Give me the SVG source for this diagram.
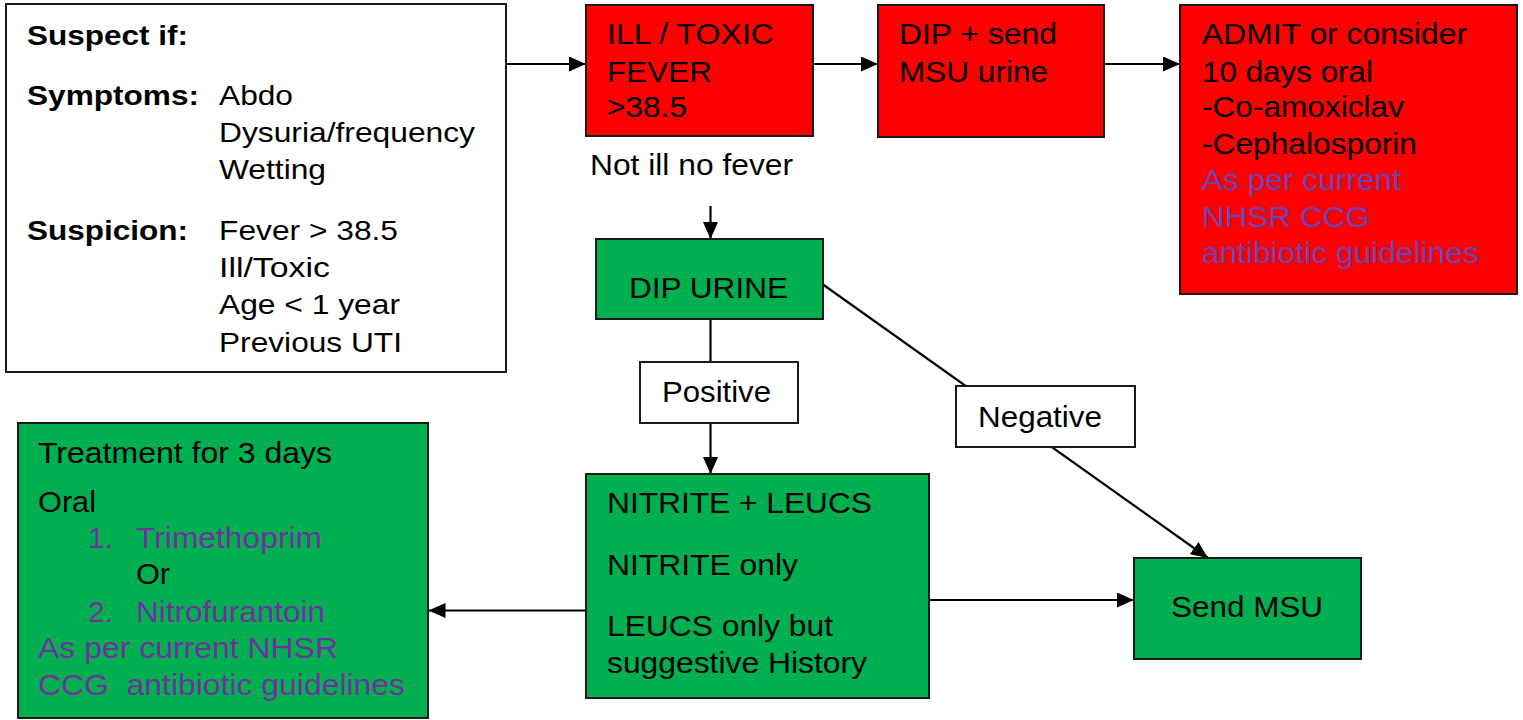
<svg xmlns="http://www.w3.org/2000/svg" width="1523" height="720" viewBox="0 0 1523 720">
<style>
text{font-family:"Liberation Sans",Arial,sans-serif;font-size:30px;fill:#000}
.s{font-size:28px}
.b{font-weight:bold}
.p{fill:#7030A0}
.pr{fill:#6F42B4}
.box{stroke:#1a1a1a;stroke-width:2}
.w{fill:#fff}
.r{fill:#FF0000}
.g{fill:#00B050}
.ln{stroke:#000;stroke-width:2.2;fill:none}
.ar{marker-end:url(#ah)}
</style>
<defs>
<marker id="ah" markerUnits="userSpaceOnUse" markerWidth="17" markerHeight="15" refX="17" refY="7.5" orient="auto">
<path d="M0,0 L17,7.5 L0,15 z" fill="#000"/>
</marker>
</defs>
<rect width="1523" height="720" fill="#fff"/>
<g id="connectors">
<line class="ln ar" x1="506" y1="64" x2="586" y2="64"/>
<line class="ln ar" x1="813" y1="64" x2="878" y2="64"/>
<line class="ln ar" x1="1104" y1="64" x2="1180" y2="64"/>
<line class="ln ar" x1="710.5" y1="206" x2="710.5" y2="239"/>
<line class="ln" x1="710.5" y1="319" x2="710.5" y2="362"/>
<line class="ln ar" x1="710.5" y1="423" x2="710.5" y2="474"/>
<line class="ln ar" x1="811" y1="276" x2="1208" y2="558"/>
<line class="ln ar" x1="586" y1="610.5" x2="428.5" y2="610.5"/>
<line class="ln ar" x1="928.5" y1="600" x2="1134" y2="600"/>
</g>
<g id="suspect">
<rect class="box w" x="6" y="4" width="500" height="368"/>
<text class="s b" x="27" y="45" textLength="161" lengthAdjust="spacingAndGlyphs">Suspect if:</text>
<text class="s b" x="27" y="105" textLength="172" lengthAdjust="spacingAndGlyphs">Symptoms:</text>
<text class="s" x="219" y="105" textLength="74" lengthAdjust="spacingAndGlyphs">Abdo</text>
<text class="s" x="219" y="142" textLength="256" lengthAdjust="spacingAndGlyphs">Dysuria/frequency</text>
<text class="s" x="219" y="179" textLength="107" lengthAdjust="spacingAndGlyphs">Wetting</text>
<text class="s b" x="27" y="240" textLength="161" lengthAdjust="spacingAndGlyphs">Suspicion:</text>
<text class="s" x="219" y="240" textLength="179" lengthAdjust="spacingAndGlyphs">Fever &gt; 38.5</text>
<text class="s" x="219" y="277" textLength="111" lengthAdjust="spacingAndGlyphs">Ill/Toxic</text>
<text class="s" x="219" y="314" textLength="181" lengthAdjust="spacingAndGlyphs">Age &lt; 1 year</text>
<text class="s" x="219" y="352" textLength="183" lengthAdjust="spacingAndGlyphs">Previous UTI</text>
</g>
<g id="ill-toxic">
<rect class="box r" x="586" y="5" width="227" height="131"/>
<text x="607" y="44" textLength="167" lengthAdjust="spacingAndGlyphs">ILL / TOXIC</text>
<text x="607" y="82" textLength="105" lengthAdjust="spacingAndGlyphs">FEVER</text>
<text x="607" y="117" textLength="80" lengthAdjust="spacingAndGlyphs">&gt;38.5</text>
</g>
<g id="dip-send">
<rect class="box r" x="878" y="5" width="226" height="132"/>
<text x="899" y="44" textLength="158" lengthAdjust="spacingAndGlyphs">DIP + send</text>
<text x="899" y="82" textLength="149" lengthAdjust="spacingAndGlyphs">MSU urine</text>
</g>
<g id="admit">
<rect class="box r" x="1180" y="5" width="337" height="289"/>
<text x="1202" y="44" textLength="265" lengthAdjust="spacingAndGlyphs">ADMIT or consider</text>
<text x="1202" y="82" textLength="171" lengthAdjust="spacingAndGlyphs">10 days oral</text>
<text x="1202" y="117" textLength="202" lengthAdjust="spacingAndGlyphs">-Co-amoxiclav</text>
<text x="1202" y="154" textLength="215" lengthAdjust="spacingAndGlyphs">-Cephalosporin</text>
<text class="pr" x="1202" y="190" textLength="199" lengthAdjust="spacingAndGlyphs">As per current</text>
<text class="pr" x="1202" y="227" textLength="168" lengthAdjust="spacingAndGlyphs">NHSR CCG</text>
<text class="pr" x="1202" y="263" textLength="277" lengthAdjust="spacingAndGlyphs">antibiotic guidelines</text>
</g>
<g id="not-ill-label">
<text x="590" y="175" textLength="203" lengthAdjust="spacingAndGlyphs">Not ill no fever</text>
</g>
<g id="dip-urine">
<rect class="box g" x="596" y="239" width="227" height="80"/>
<text x="629" y="298" textLength="159" lengthAdjust="spacingAndGlyphs">DIP URINE</text>
</g>
<g id="positive">
<rect class="box w" x="640" y="362" width="158" height="61"/>
<text x="662" y="402" textLength="109" lengthAdjust="spacingAndGlyphs">Positive</text>
</g>
<g id="negative">
<rect class="box w" x="956" y="386" width="179" height="61"/>
<text x="978" y="427" textLength="124" lengthAdjust="spacingAndGlyphs">Negative</text>
</g>
<g id="nitrite">
<rect class="box g" x="586" y="474" width="343" height="224"/>
<text x="607" y="513" textLength="265" lengthAdjust="spacingAndGlyphs">NITRITE + LEUCS</text>
<text x="607" y="575" textLength="191" lengthAdjust="spacingAndGlyphs">NITRITE only</text>
<text x="607" y="636" textLength="226" lengthAdjust="spacingAndGlyphs">LEUCS only but</text>
<text x="607" y="673" textLength="260" lengthAdjust="spacingAndGlyphs">suggestive History</text>
</g>
<g id="send-msu">
<rect class="box g" x="1134" y="558" width="227" height="101"/>
<text x="1171" y="617" textLength="152" lengthAdjust="spacingAndGlyphs">Send MSU</text>
</g>
<g id="treatment">
<rect class="box g" x="18" y="423" width="410" height="295"/>
<text x="38" y="463" textLength="294" lengthAdjust="spacingAndGlyphs">Treatment for 3 days</text>
<text x="38" y="512" textLength="58" lengthAdjust="spacingAndGlyphs">Oral</text>
<text class="p" x="88" y="548">1.</text>
<text class="p" x="136" y="548" textLength="186" lengthAdjust="spacingAndGlyphs">Trimethoprim</text>
<text x="136" y="584" textLength="34" lengthAdjust="spacingAndGlyphs">Or</text>
<text class="p" x="88" y="622">2.</text>
<text class="p" x="136" y="622" textLength="189" lengthAdjust="spacingAndGlyphs">Nitrofurantoin</text>
<text class="p" x="38" y="658" textLength="300" lengthAdjust="spacingAndGlyphs">As per current NHSR</text>
<text class="p" x="38" y="695" textLength="367" lengthAdjust="spacingAndGlyphs" xml:space="preserve">CCG  antibiotic guidelines</text>
</g>
</svg>
